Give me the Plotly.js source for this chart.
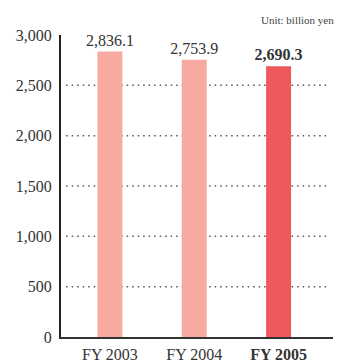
<!DOCTYPE html>
<html>
<head>
<meta charset="utf-8">
<script src="https://cdn.plot.ly/plotly-3.0.1.min.js"></script>
<style>
  html, body { margin: 0; padding: 0; background: #fff; }
  #chart { width: 337px; height: 364px; }
</style>
</head>
<body>
<div id="chart"></div>
<script>
// Net sales by fiscal year (billion yen)
const categories = ['FY 2003', 'FY 2004', 'FY 2005'];
const netSales = [2836.1, 2753.9, 2690.3];
const barColors = ['#F7AA9F', '#F7AA9F', '#EF585C'];
const yTickValues = [0, 500, 1000, 1500, 2000, 2500, 3000];
const gridValues = [500, 1000, 1500, 2000, 2500];
const unitLabel = 'Unit: billion yen';

const serif = '"Liberation Serif", "DejaVu Serif", serif';
const fmt = v => v.toLocaleString('en-US', {minimumFractionDigits: 1, maximumFractionDigits: 1});
const lastIdx = categories.length - 1;

const valueText = netSales.map((v, i) => i === lastIdx ? '<b>' + fmt(v) + '</b>' : fmt(v));
const tickText = categories.map((c, i) => i === lastIdx ? '<b>' + c + '</b>' : c);

const trace = {
  type: 'bar',
  x: categories,
  y: netSales,
  width: 0.296,
  marker: {color: barColors, line: {width: 0}},
  text: valueText,
  textposition: 'outside',
  constraintext: 'none',
  cliponaxis: false,
  textfont: {family: serif, size: 16, color: '#333333'},
  outsidetextfont: {family: serif, size: 16, color: '#333333'},
  hoverinfo: 'skip'
};

const gridShapes = gridValues.map(v => ({
  type: 'line', xref: 'paper', yref: 'y',
  x0: 0.019, x1: 0.982, y0: v, y1: v,
  layer: 'below',
  line: {color: '#555555', width: 1.5, dash: '1.5px,4px'}
}));

const layout = {
  width: 337,
  height: 364,
  margin: {l: 61, r: 4, t: 35, b: 27},
  paper_bgcolor: '#ffffff',
  plot_bgcolor: '#ffffff',
  showlegend: false,
  font: {family: serif, size: 16, color: '#333333'},
  xaxis: {
    type: 'category',
    range: [-0.58, 2.645],
    tickvals: categories,
    ticktext: tickText,
    showline: true,
    linecolor: '#333333',
    linewidth: 1.5,
    showgrid: false,
    zeroline: false,
    ticks: '',
    ticklabelstandoff: 2,
    tickfont: {family: serif, size: 16, color: '#333333'},
    fixedrange: true
  },
  yaxis: {
    range: [0, 3000],
    tickvals: yTickValues,
    ticktext: yTickValues.map(v => v.toLocaleString('en-US')),
    showline: true,
    linecolor: '#222222',
    linewidth: 2,
    showgrid: false,
    zeroline: false,
    ticks: '',
    ticklabelstandoff: 4,
    tickfont: {family: serif, size: 16, color: '#333333'},
    fixedrange: true
  },
  shapes: gridShapes,
  annotations: [{
    text: unitLabel,
    xref: 'paper', yref: 'paper',
    x: 1.01, y: 1.05,
    xanchor: 'right', yanchor: 'middle',
    showarrow: false,
    font: {family: serif, size: 11, color: '#444444'}
  }]
};

Plotly.newPlot('chart', [trace], layout, {displayModeBar: false, staticPlot: true});
</script>
</body>
</html>
